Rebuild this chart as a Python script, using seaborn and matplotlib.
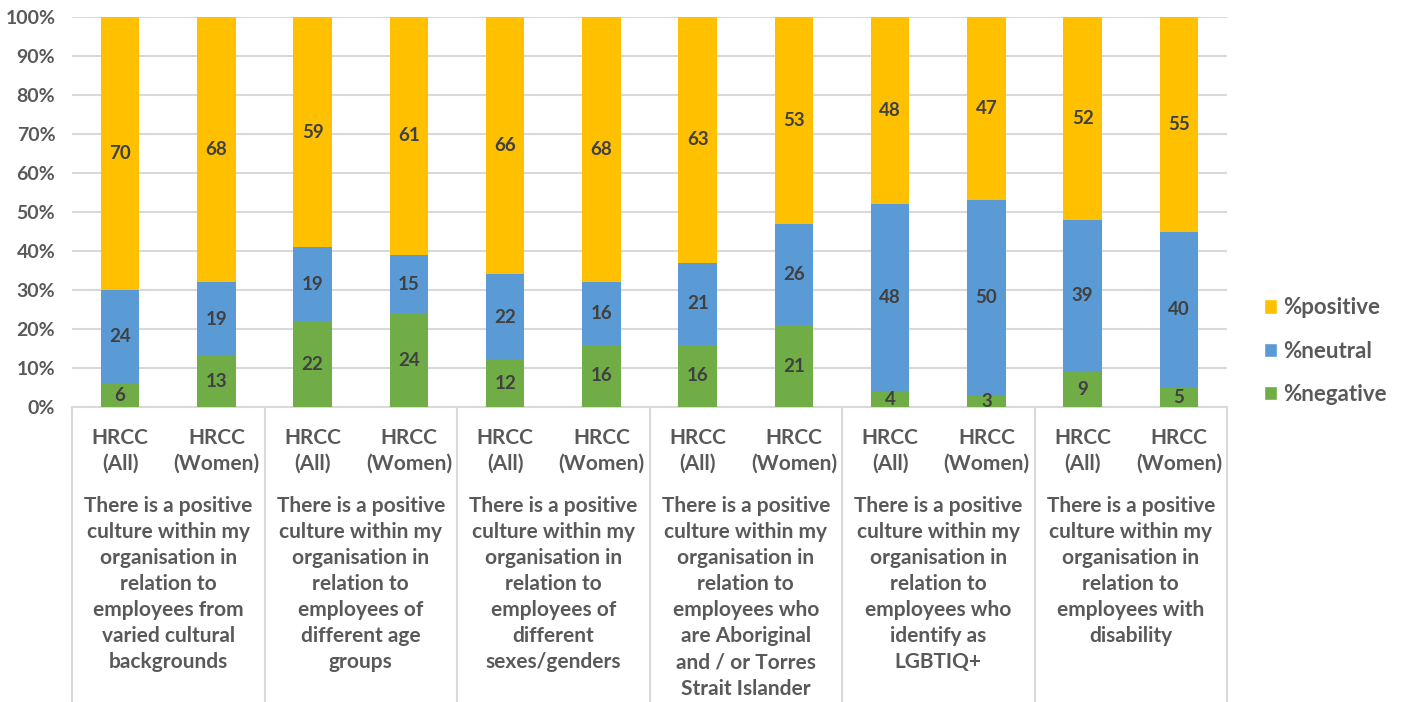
import matplotlib
matplotlib.use("Agg")
import matplotlib.pyplot as plt
import seaborn as sns
import pandas as pd
import numpy as np
from matplotlib.patches import Patch
from matplotlib.lines import Line2D
import matplotlib.transforms as mtransforms

# ---- data ----
bar_labels = ["HRCC\n(All)", "HRCC\n(Women)"] * 6
groups = [
    "There is a positive\nculture within my\norganisation in\nrelation to\nemployees from\nvaried cultural\nbackgrounds",
    "There is a positive\nculture within my\norganisation in\nrelation to\nemployees of\ndifferent age\ngroups",
    "There is a positive\nculture within my\norganisation in\nrelation to\nemployees of\ndifferent\nsexes/genders",
    "There is a positive\nculture within my\norganisation in\nrelation to\nemployees who\nare Aboriginal\nand / or Torres\nStrait Islander",
    "There is a positive\nculture within my\norganisation in\nrelation to\nemployees who\nidentify as\nLGBTIQ+",
    "There is a positive\nculture within my\norganisation in\nrelation to\nemployees with\ndisability",
]
positive = [70, 68, 59, 61, 66, 68, 63, 53, 48, 47, 52, 55]
neutral = [24, 19, 19, 15, 22, 16, 21, 26, 48, 50, 39, 40]
negative = [6, 13, 22, 24, 12, 16, 16, 21, 4, 3, 9, 5]

C_POS, C_NEU, C_NEG = "#FFC000", "#5B9BD5", "#70AD47"
TXT = "#595959"
GRID = "#D9D9D9"
FONT = "Lato"

sns.set_theme(style="white")
plt.rcParams["font.family"] = [FONT, "DejaVu Sans"]
plt.rcParams["font.weight"] = "bold"

keys = [f"b{i}" for i in range(len(positive))]
df = pd.DataFrame({
    "key": keys,
    "pos": positive, "neu": neutral, "neg": negative,
})
df["total"] = (df["pos"] + df["neu"] + df["neg"]) / 100.0
df["lower2"] = (df["neu"] + df["neg"]) / 100.0
df["lower1"] = df["neg"] / 100.0

fig = plt.figure(figsize=(14.11, 7.02), dpi=100)
ax = fig.add_axes([72 / 1411, 1 - 407 / 702, (1227 - 72) / 1411, (407 - 17) / 702])

W = 0.4
sns.barplot(data=df, x="key", y="total", order=keys, color=C_POS, width=W,
            saturation=1, ax=ax, linewidth=0, zorder=3)
sns.barplot(data=df, x="key", y="lower2", order=keys, color=C_NEU, width=W,
            saturation=1, ax=ax, linewidth=0, zorder=3)
sns.barplot(data=df, x="key", y="lower1", order=keys, color=C_NEG, width=W,
            saturation=1, ax=ax, linewidth=0, zorder=3)

# value labels
for i in range(len(keys)):
    n, u, p = negative[i] / 100, neutral[i] / 100, positive[i] / 100
    for val, ymid in [(negative[i], n / 2), (neutral[i], n + u / 2), (positive[i], n + u + p / 2)]:
        ax.text(i, ymid, f"{val}", ha="center", va="center", fontsize=13.5,
                fontweight="bold", color="#404040", zorder=5, family=[FONT, "DejaVu Sans"])

ax.set_xlim(-0.5, len(keys) - 0.5)
ax.set_ylim(0, 1)
ax.set_yticks(np.arange(0, 1.01, 0.1))
ax.set_yticklabels([f"{int(round(v * 100))}%" for v in np.arange(0, 1.01, 0.1)],
                   fontsize=14, fontweight="bold", color=TXT)
ax.yaxis.grid(True, color=GRID, linewidth=1.5, zorder=0)
ax.set_axisbelow(True)
ax.tick_params(axis="y", length=0, pad=12)
ax.tick_params(axis="x", length=0, pad=15)
ax.set_xticks(range(len(keys)))
ax.set_xticklabels(bar_labels, fontsize=15, fontweight="bold", color=TXT, linespacing=1.38)
ax.set_xlabel("")
ax.set_ylabel("")
for s in ["left", "right", "top"]:
    ax.spines[s].set_visible(False)
ax.spines["bottom"].set_color(GRID)
ax.spines["bottom"].set_linewidth(1.5)

# group separators and labels
trans = mtransforms.blended_transform_factory(ax.transData, ax.transAxes)
ybot = (407 - 702) / 390
for g in range(len(groups) + 1):
    x = g * 2 - 0.5
    ax.add_line(Line2D([x, x], [0, ybot], transform=trans, color=GRID,
                       linewidth=1.5, clip_on=False))
for g, lab in enumerate(groups):
    ax.text(g * 2 + 0.5, (407 - 496) / 390, lab, transform=trans, ha="center", va="top",
            fontsize=15, fontweight="bold", color=TXT, linespacing=1.38)

handles = [Patch(facecolor=C_POS, label="%positive"),
           Patch(facecolor=C_NEU, label="%neutral"),
           Patch(facecolor=C_NEG, label="%negative")]
leg = fig.legend(handles=handles, loc="center left", bbox_to_anchor=(1244 / 1411, 1 - 351 / 702),
                 frameon=False, handlelength=0.6, handleheight=0.6, handletextpad=0.25,
                 labelspacing=1.0, prop={"family": [FONT, "DejaVu Sans"], "weight": "bold", "size": 16})
for t in leg.get_texts():
    t.set_color(TXT)

fig.savefig("out.png", dpi=100, facecolor="white")
